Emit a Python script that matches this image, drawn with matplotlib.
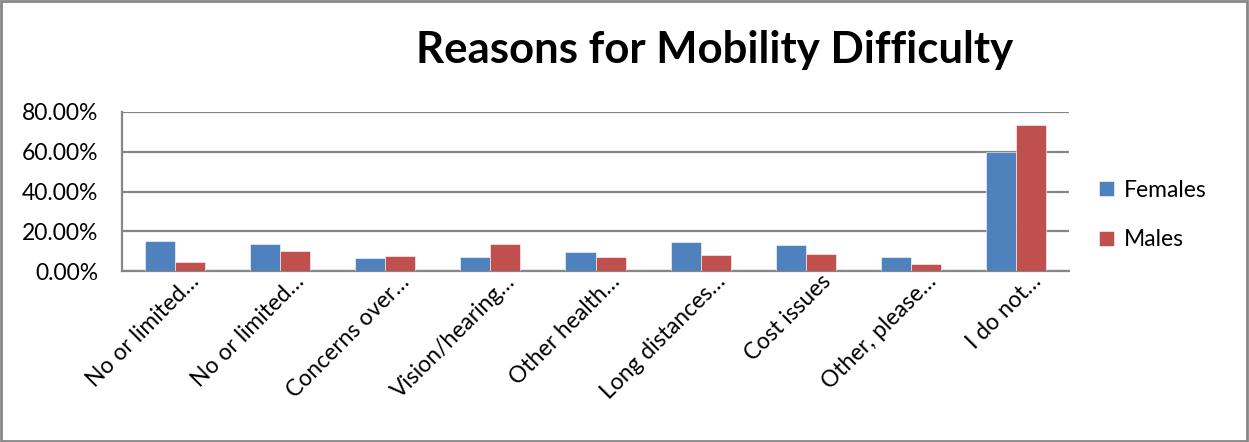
import numpy as np
import matplotlib.pyplot as plt
import matplotlib.transforms as mtransforms
from matplotlib.patches import Rectangle
from matplotlib.ticker import FuncFormatter

plt.rcParams['font.family'] = ['Lato', 'DejaVu Sans']

categories = [
    "No or limited…", "No or limited…", "Concerns over…",
    "Vision/hearing…", "Other health…", "Long distances…",
    "Cost issues", "Other, please…", "I do not…",
]
females = [15.3, 13.6, 6.4, 7.1, 9.4, 14.5, 13.0, 6.9, 59.8]
males = [4.5, 10.1, 7.6, 13.8, 6.9, 8.2, 8.7, 3.5, 73.7]
series_names = ["Females", "Males"]
colors = ["#4F81BD", "#C0504D"]

fig = plt.figure(figsize=(12.49, 4.42), dpi=100)
ax = fig.add_axes([122 / 1249, 1 - 271 / 442, (1069 - 122) / 1249, (271 - 112) / 442])

x = np.arange(len(categories))
w = 1 / 3.5
bars = []
for i, (vals, name, c) in enumerate(zip([females, males], series_names, colors)):
    b = ax.bar(x + (i - 0.5) * w, vals, w, color=c, label=name, zorder=3,
               edgecolor="white", linewidth=0.4)
    bars.append(b)

ax.set_xlim(-0.5, len(categories) - 0.5)
ax.set_ylim(0, 80)
ax.set_yticks([0, 20, 40, 60, 80])
ax.yaxis.set_major_formatter(FuncFormatter(lambda v, p: f"{v:.2f}%"))
ax.grid(axis="y", color="#868686", linewidth=1.6, zorder=0)
ax.tick_params(axis="y", length=0, labelsize=16.5, pad=17)
ax.tick_params(axis="x", length=0, labelsize=16.5, pad=0)
ax.set_xticks(x)
ax.set_xticklabels(categories, rotation=45, ha="right", rotation_mode="anchor")
shift = mtransforms.ScaledTranslation(14 / 100, 0, fig.dpi_scale_trans)
for lab in ax.get_xticklabels():
    lab.set_transform(lab.get_transform() + shift)
for s in ["top", "right"]:
    ax.spines[s].set_visible(False)
for s in ["left", "bottom"]:
    ax.spines[s].set_color("#868686")
    ax.spines[s].set_linewidth(1.6)

fig.text(715 / 1249, 1 - 50 / 442, "Reasons for Mobility Difficulty",
         ha="center", va="center", fontsize=31.5, fontweight="bold")

fig.legend(handles=bars, labels=series_names, loc="center left",
           bbox_to_anchor=(1078 / 1249, 1 - 215 / 442), frameon=False,
           fontsize=16.5, handlelength=0.65, handleheight=0.65,
           labelspacing=1.25, handletextpad=0.45)

fig.patches.append(Rectangle((0.001, 0.002), 0.997, 0.995, transform=fig.transFigure,
                             fill=False, edgecolor="#888888", linewidth=2))

fig.savefig("out.png", dpi=100)
